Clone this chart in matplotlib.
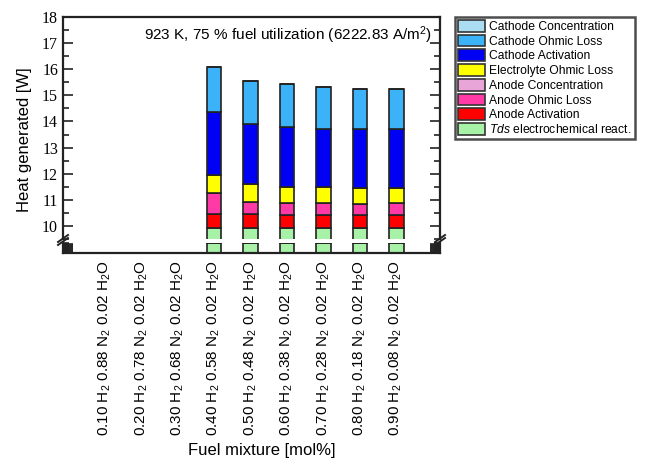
import numpy as np
import matplotlib
matplotlib.use("Agg")
import matplotlib.pyplot as plt
from matplotlib.patches import Patch

plt.rcParams["font.family"] = ["Liberation Sans", "DejaVu Sans"]
plt.rcParams["mathtext.fontset"] = "custom"
plt.rcParams["mathtext.rm"] = "Liberation Sans"
plt.rcParams["mathtext.it"] = "Liberation Sans:italic"

# Data (heights of each stacked segment, W); first three mixtures have no results
mixtures = [
    "0.10 H$_2$ 0.88 N$_2$ 0.02 H$_2$O",
    "0.20 H$_2$ 0.78 N$_2$ 0.02 H$_2$O",
    "0.30 H$_2$ 0.68 N$_2$ 0.02 H$_2$O",
    "0.40 H$_2$ 0.58 N$_2$ 0.02 H$_2$O",
    "0.50 H$_2$ 0.48 N$_2$ 0.02 H$_2$O",
    "0.60 H$_2$ 0.38 N$_2$ 0.02 H$_2$O",
    "0.70 H$_2$ 0.28 N$_2$ 0.02 H$_2$O",
    "0.80 H$_2$ 0.18 N$_2$ 0.02 H$_2$O",
    "0.90 H$_2$ 0.08 N$_2$ 0.02 H$_2$O",
]
nan = np.nan
tds = [nan, nan, nan, 9.93, 9.93, 9.93, 9.93, 9.93, 9.93]
anode_act = [nan, nan, nan, 0.52, 0.52, 0.49, 0.49, 0.49, 0.49]
anode_ohm = [nan, nan, nan, 0.80, 0.48, 0.47, 0.45, 0.42, 0.45]
anode_conc = [nan, nan, nan, 0.0, 0.0, 0.0, 0.0, 0.0, 0.0]
electrolyte_ohm = [nan, nan, nan, 0.70, 0.66, 0.61, 0.61, 0.62, 0.59]
cathode_act = [nan, nan, nan, 2.42, 2.33, 2.30, 2.25, 2.25, 2.25]
cathode_ohm = [nan, nan, nan, 1.72, 1.63, 1.62, 1.58, 1.55, 1.55]
cathode_conc = [nan, nan, nan, 0.0, 0.0, 0.0, 0.0, 0.0, 0.0]

series = [
    (tds, "#a8f2a8", "$Tds$ electrochemical react."),
    (anode_act, "#ff0000", "Anode Activation"),
    (anode_ohm, "#ff3aa6", "Anode Ohmic Loss"),
    (anode_conc, "#e8a6d8", "Anode Concentration"),
    (electrolyte_ohm, "#ffff00", "Electrolyte Ohmic Loss"),
    (cathode_act, "#0000f5", "Cathode Activation"),
    (cathode_ohm, "#3cb2f8", "Cathode Ohmic Loss"),
    (cathode_conc, "#aadcf2", "Cathode Concentration"),
]

W, H = 645, 459
fig = plt.figure(figsize=(6.45, 4.59), dpi=100)
ax = fig.add_axes([63 / W, 1 - 239 / H, 377 / W, 222 / H])
axl = fig.add_axes([63 / W, 1 - 253 / H, 377 / W, 10 / H])

x = np.arange(len(mixtures))
edge = "#222222"
for a in (ax, axl):
    bottom = np.zeros(len(x))
    for vals, color, label in series:
        v = np.array(vals, dtype=float)
        a.bar(x, v, 0.4, bottom=bottom, color=color, edgecolor=edge, linewidth=1.2)
        bottom = bottom + v
    a.set_xlim(-1.15, 9.2)
    for s in a.spines.values():
        s.set_linewidth(1.6)
        s.set_color(edge)
    a.tick_params(axis="y", which="both", direction="in", left=True, right=True,
                  color=edge, width=1.2)
    a.tick_params(axis="y", which="major", length=7)
    a.tick_params(axis="y", which="minor", length=4)

ax.set_ylim(9.5, 18)
ax.set_yticks(np.arange(10, 19, 1))
ax.set_yticks(np.arange(9.5, 18.01, 0.5), minor=True)
ax.set_yticklabels([str(v) for v in range(10, 19)], family="Liberation Serif", fontsize=11.5)
ax.spines["bottom"].set_visible(False)
ax.set_xticks([])

axl.set_ylim(0, 9.5)
axl.set_yticks(np.arange(0, 10, 1))
axl.set_yticks(np.arange(0, 9.6, 0.5), minor=True)
axl.set_yticklabels([])
axl.spines["top"].set_visible(False)
axl.set_xticks(x)
axl.set_xticklabels(mixtures, rotation=90, fontsize=11)
axl.tick_params(axis="x", length=0, pad=5)

# break marks
for xf in (63 / W, 440 / W):
    for dy in (0, 3):
        fig.add_artist(plt.Line2D([xf - 5 / W, xf + 5 / W],
                                  [1 - (245 - dy) / H, 1 - (238 - dy) / H],
                                  color=edge, lw=1.4))

ax.text(0.98, 0.92, "923 K, 75 % fuel utilization (6222.83 A/m$^2$)",
        transform=ax.transAxes, ha="right", va="center", fontsize=11)

fig.text(25 / W, 1 - 140 / H, "Heat generated [W]", rotation=90, ha="center",
         va="center", fontsize=12)
fig.text(262 / W, 1 - 450 / H, "Fuel mixture [mol%]", ha="center", va="center",
         fontsize=12)

handles = [Patch(facecolor=c, edgecolor="#333333", linewidth=1.2, label=l)
           for _, c, l in series][::-1]
leg = fig.legend(handles=handles, loc="upper left",
                 bbox_to_anchor=(455 / W, 1 - 17 / H), borderaxespad=0,
                 fontsize=8.7, frameon=True, fancybox=False, handlelength=2.2,
                 handleheight=1.1, handletextpad=0.4, labelspacing=0.15,
                 borderpad=0.25)
leg.get_frame().set_edgecolor(edge)
leg.get_frame().set_linewidth(1.8)

fig.savefig("out.png", dpi=100, facecolor="white")
